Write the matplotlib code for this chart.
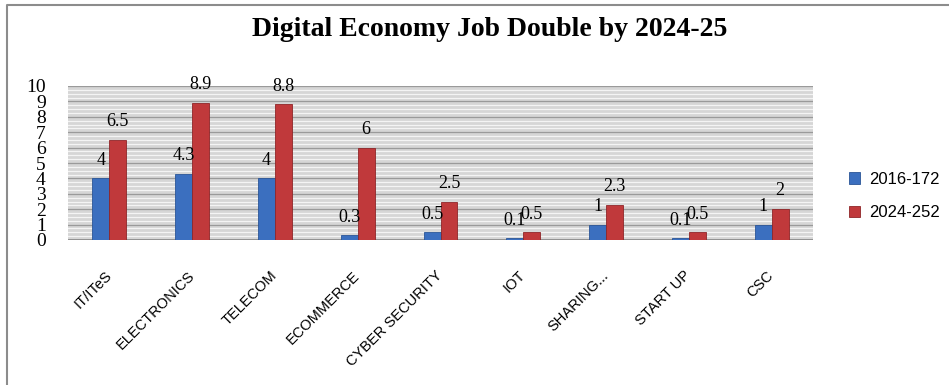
import numpy as np
import matplotlib
matplotlib.use("Agg")
import matplotlib.pyplot as plt
from matplotlib.lines import Line2D

categories = ["IT/ITeS", "ELECTRONICS", "TELECOM", "ECOMMERCE", "CYBER SECURITY",
              "IOT", "SHARING...", "START UP", "CSC"]
jobs_2016 = [4, 4.3, 4, 0.3, 0.5, 0.1, 1, 0.1, 1]
jobs_2024 = [6.5, 8.9, 8.8, 6, 2.5, 0.5, 2.3, 0.5, 2]
series_names = ["2016-172", "2024-252"]

fig = plt.figure(figsize=(9.49, 3.85), dpi=100)
ax = fig.add_axes([68/949, 1 - 240/385, (813-68)/949, (240-86)/385])

# outer frame (only top and left edges are visible in the original)
fig.lines.append(Line2D([7/949, 7/949, 1], [0, 1 - 5/385, 1 - 5/385],
                        transform=fig.transFigure, color="#8c8c8c", linewidth=1.5))

x = np.arange(len(categories))
w = 0.205
b1 = ax.bar(x - w/2, jobs_2016, w, color="#3b6fbf", edgecolor="#2a5597", linewidth=0.6,
            label=series_names[0], zorder=3)
b2 = ax.bar(x + w/2, jobs_2024, w, color="#c0393b", edgecolor="#8f2528", linewidth=0.6,
            label=series_names[1], zorder=3)

for bars, vals in [(b1, jobs_2016), (b2, jobs_2024)]:
    for rect, v in zip(bars, vals):
        ax.annotate(f"{v:g}", (rect.get_x() + rect.get_width()/2, v),
                    xytext=(0, 7), textcoords="offset points", ha="center", va="bottom",
                    fontsize=13, family="Liberation Serif", zorder=4)

ax.set_xlim(-0.5, len(categories) - 0.5)
ax.set_ylim(0, 10)
ax.set_facecolor("#d6d6d6")
ax.set_yticks(range(0, 11))
ax.set_yticks(np.arange(0, 10, 0.25), minor=True)
ax.yaxis.grid(True, which="minor", color="#f4f4f4", linewidth=0.9, zorder=0)
ax.yaxis.grid(True, which="major", color="#9a9a9a", linewidth=0.9, zorder=1)
ax.set_axisbelow(True)
for s in ax.spines.values():
    s.set_visible(False)
ax.axhline(0, color="#888888", linewidth=1.2, zorder=2)
ax.tick_params(axis="both", which="both", length=0)
ax.tick_params(axis="y", pad=16)
for lbl in ax.get_yticklabels():
    lbl.set_family("Liberation Serif")
    lbl.set_fontsize(14)
ax.set_xticks(x)
ax.set_xticklabels(categories, rotation=45, ha="right", va="center", rotation_mode="anchor",
                   fontsize=10.5, family="Liberation Sans")
ax.tick_params(axis="x", pad=24)

fig.text(490/949, 1 - 30/385, "Digital Economy Job Double by 2024-25", ha="center", va="center",
         fontsize=20, fontweight="bold", family="Liberation Serif")

fig.legend(handles=[b1, b2], labels=series_names, loc="center left",
           bbox_to_anchor=(842/949, 1 - 196/385), borderaxespad=0, frameon=False,
           prop={"family": "Liberation Sans", "size": 12},
           handlelength=0.7, handleheight=0.7, handletextpad=0.5, labelspacing=1.1)

fig.savefig("out.png", dpi=100)
